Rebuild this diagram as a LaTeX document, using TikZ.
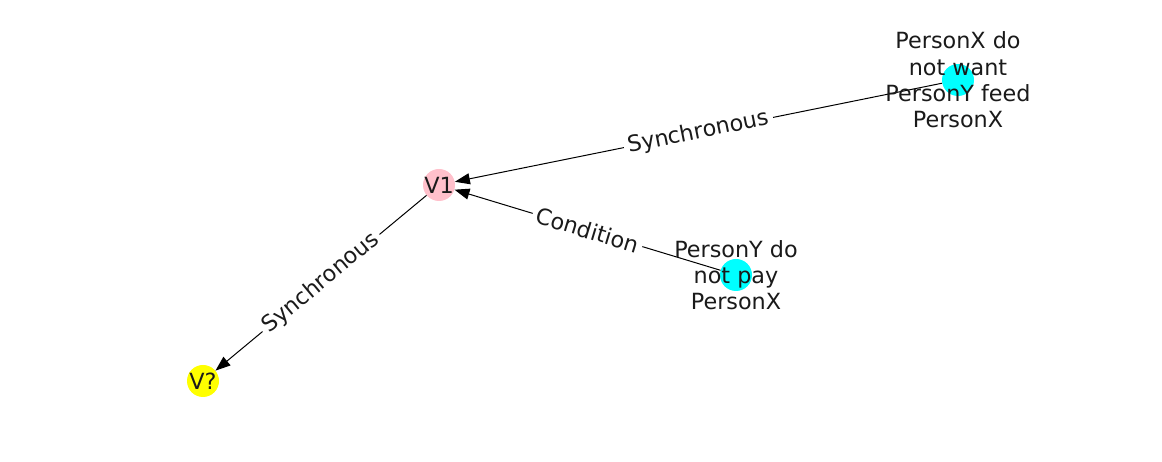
\documentclass[tikz,border=0pt]{standalone}
\usepackage{fontspec}
\setmainfont{DejaVu Sans}
\usetikzlibrary{arrows.meta}
\definecolor{cPink}  {HTML}{FFC0CB}
\definecolor{cCyan}  {HTML}{00FFFF}
\definecolor{cYellow}{HTML}{FFFF00}
\definecolor{cText}  {HTML}{1A1A1A}

\begin{document}
\begin{tikzpicture}[x=1pt, y=1pt,
    vert/.style = {circle, inner sep=0pt, minimum size=32pt},
    txt/.style  = {align=center, inner sep=0pt, text=cText, font=\fontsize{22.3}{26.3}\selectfont},
    rel/.style  = {-{Triangle[length=15pt, width=11pt]}, line width=1pt, black},
    lbl/.style  = {midway, sloped, fill=white, inner sep=4pt, text=cText, font=\fontsize{22.3}{26.3}\selectfont} ]
  \useasboundingbox (0,0) rectangle (1162,462);
  % vertices
  \node[vert, fill=cPink]   (v1) at (439,277) {};
  \node[vert, fill=cYellow] (vq) at (203,81)  {};
  \node[vert, fill=cCyan]   (px) at (958,382) {};
  \node[vert, fill=cCyan]   (py) at (736,187) {};
  % relations
  \draw[rel] (px) -- node[lbl] {Synchronous} (v1);
  \draw[rel] (py) -- node[lbl] {Condition} (v1);
  \draw[rel] (v1) -- node[lbl] {Synchronous} (vq);
  % texts
  \node[txt] (tv1) at (v1) {V1};
  \node[txt] (tvq) at (vq) {V?};
  \node[txt] (tpx) at (px) {PersonX do\\not want\\PersonY feed\\PersonX};
  \node[txt] (tpy) at (py) {PersonY do\\not pay\\PersonX};
\end{tikzpicture}
\end{document}
